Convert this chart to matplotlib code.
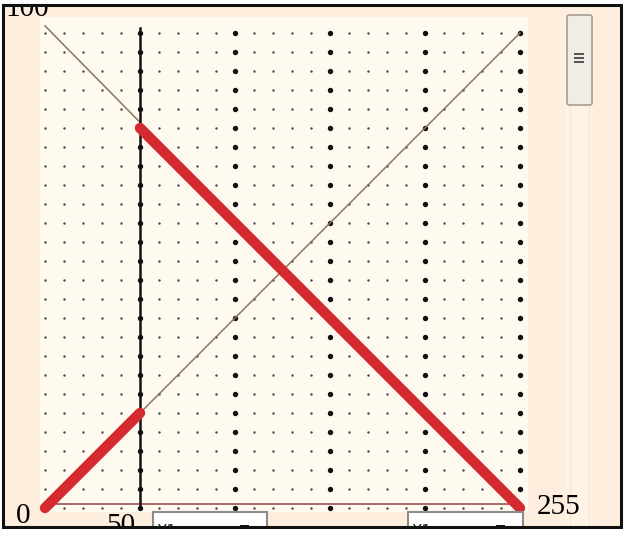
import numpy as np
import matplotlib
matplotlib.use("Agg")
import matplotlib.pyplot as plt
from matplotlib.patches import Rectangle, FancyBboxPatch

# curve data: input level 0..255, output in percent
x_max = 255
y_max = 100
split_x = 51
low_x = [0, split_x]
low_y = [0, 20]
high_x = [split_x, 255]
high_y = [80, 0]

# reference diagonals
rise_x = [0, 255]
rise_y = [0, 100]
fall_x = [0, 255]
fall_y = [101.5, 0]

grid_steps = 25
major_every = 5

corner_labels = ["100", "0", "50", "255"]
box_labels = ["X1", "X1"]

W, H = 625, 533


def fx(x):
    return x / W


def fy(y):
    return 1 - y / H


fig = plt.figure(figsize=(W / 100, H / 100), dpi=100)
fig.patch.set_facecolor("white")

# window background
fig.patches.append(Rectangle((fx(3), fy(527)), (621 - 3) / W, (527 - 5) / H,
                             transform=fig.transFigure, facecolor="#fdeedd",
                             edgecolor="none", zorder=-3))
fig.patches.append(Rectangle((fx(40), fy(512)), (528 - 40) / W, (512 - 17) / H,
                             transform=fig.transFigure, facecolor="#fefaf0",
                             edgecolor="none", zorder=-2))

# plot area
ax = fig.add_axes([fx(45), fy(508), 475 / W, 475 / H])
ax.set_xlim(0, x_max)
ax.set_ylim(0, y_max)
ax.axis("off")
ax.patch.set_visible(False)

gx = np.linspace(0, x_max, grid_steps + 1)
gy = np.linspace(0, y_max, grid_steps + 1)
for i, xv in enumerate(gx):
    major = i % major_every == 0 and i > 0
    ax.scatter(np.full(len(gy), xv), gy, s=15 if major else 3,
               color="#111111" if major else "#444444", linewidths=0,
               zorder=2, clip_on=False)

ax.plot(rise_x, rise_y, color="#8a735f", lw=1.1, zorder=3, clip_on=False)
ax.plot(fall_x, fall_y, color="#8a735f", lw=1.1, zorder=3, clip_on=False)
ax.plot([0, x_max], [0.8, 0.8], color="#a3605e", lw=1.3, zorder=3, clip_on=False)
ax.plot([split_x, split_x], [0, 101], color="#111111", lw=1.8, zorder=4,
        clip_on=False)

ax.plot(low_x, low_y, color="#d42a30", lw=7.5, solid_capstyle="round",
        zorder=5, clip_on=False)
ax.plot(high_x, high_y, color="#d42a30", lw=7.5, solid_capstyle="round",
        zorder=5, clip_on=False)

# axis end labels
serif = "Liberation Serif"
fig.text(fx(5), fy(16), corner_labels[0], fontsize=21, family=serif,
         va="baseline", ha="left", zorder=3)
fig.text(fx(16), fy(523), corner_labels[1], fontsize=21, family=serif,
         va="baseline", ha="left", zorder=3)
fig.text(fx(106), fy(533), corner_labels[2], fontsize=21, family=serif,
         va="baseline", ha="left", zorder=3)
fig.text(fx(537), fy(514), corner_labels[3], fontsize=21, family=serif,
         va="baseline", ha="left", zorder=3)

# dropdown boxes under the plot
for left, right, lab in [(153, 267, box_labels[0]), (408, 523, box_labels[1])]:
    fig.patches.append(Rectangle((fx(left), fy(540)), (right - left) / W, 28 / H,
                                 transform=fig.transFigure, facecolor="white",
                                 edgecolor="#8c8c8c", lw=1.5, zorder=3.2))
    fig.text(fx(left + 4), fy(536), lab, fontsize=11, family="DejaVu Sans",
             va="baseline", ha="left", color="#222222", zorder=3.3)
    fig.patches.append(Rectangle((fx(right - 27), fy(530)), 9 / W, 5 / H,
                                 transform=fig.transFigure, facecolor="#111111",
                                 edgecolor="none", zorder=3.3))

# scrollbar
fig.patches.append(Rectangle((fx(566), fy(527)), 27 / W, (527 - 106) / H,
                             transform=fig.transFigure, facecolor="#fdf2e4",
                             edgecolor="none", zorder=-1))
for xv in (570, 589):
    fig.patches.append(Rectangle((fx(xv), fy(527)), 1 / W, (527 - 106) / H,
                                 transform=fig.transFigure, facecolor="#f3e6d6",
                                 edgecolor="none", zorder=-1))
fig.patches.append(FancyBboxPatch((fx(567), fy(105)), 25 / W, 90 / H,
                                  boxstyle="round,pad=0,rounding_size=0.004",
                                  transform=fig.transFigure, facecolor="#f1ede6",
                                  edgecolor="#a39d94", lw=1.2, zorder=1))
for yv in (54, 58, 62):
    fig.patches.append(Rectangle((fx(574), fy(yv + 1)), 10 / W, 2 / H,
                                 transform=fig.transFigure, facecolor="#555555",
                                 edgecolor="none", zorder=1.1))

# outside masks and frame
for rx, ry, rw, rh in [(0, 0, W, 5), (0, 527, W, H - 527), (0, 0, 3, H), (621, 0, W - 621, H)]:
    fig.patches.append(Rectangle((fx(rx), fy(ry + rh)), rw / W, rh / H,
                                 transform=fig.transFigure, facecolor="white",
                                 edgecolor="none", zorder=4))
fig.patches.append(Rectangle((fx(3), fy(527)), (621 - 3) / W, (527 - 5) / H,
                             transform=fig.transFigure, facecolor="none",
                             edgecolor="#111111", lw=2.2, zorder=5))

fig.savefig("out.png", dpi=100)
